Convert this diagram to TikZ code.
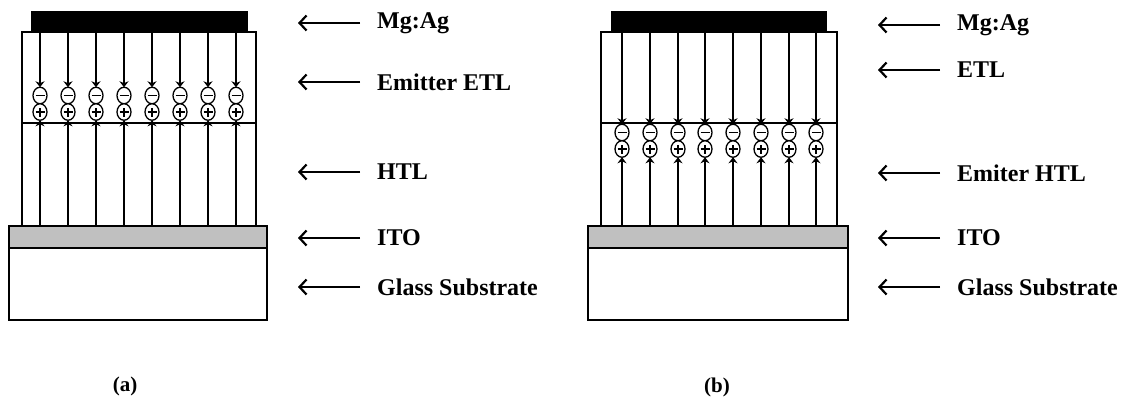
\documentclass[tikz,border=0pt]{standalone}
\usepackage{fontspec}
\setmainfont{Liberation Serif}
\usetikzlibrary{arrows.meta,shapes.geometric}
\definecolor{itogray}{RGB}{192,192,192}
\tikzset{
  layer/.style={draw, line width=1.6pt, inner sep=0pt, outer sep=0pt, anchor=north west},
  sign/.style={ellipse, draw, line width=1.3pt, minimum width=14pt, minimum height=16.5pt, inner sep=0pt, outer sep=0pt, fill=white},
  negc/.style={sign, path picture={\draw[line width=1.6pt] ([xshift=-4.5pt]path picture bounding box.center) -- ([xshift=4.5pt]path picture bounding box.center);}},
  posc/.style={sign, path picture={\draw[line width=1.6pt] ([xshift=-4.5pt]path picture bounding box.center) -- ([xshift=4.5pt]path picture bounding box.center) ([yshift=-4.5pt]path picture bounding box.center) -- ([yshift=4.5pt]path picture bounding box.center);}},
  carrier/.style={line width=1.6pt, -{Stealth[length=6pt,width=9pt]}},
  lab/.style={anchor=west, inner sep=0pt, font=\fontsize{24}{28}\selectfont\bfseries},
  labarrow/.style={line width=2.4pt, -{Straight Barb[length=7pt,width=15pt,line width=2.2pt]}, shorten <=17pt},
  captext/.style={inner sep=0pt, font=\fontsize{21}{25}\selectfont\bfseries},
}
\begin{document}
\begin{tikzpicture}[x=1pt,y=-1pt]
\useasboundingbox (0,0) rectangle (1133,407);
% ---------- panel (a) ----------
\node[layer, fill=black, minimum width=215pt, minimum height=20pt] (mgA) at (32,12) {};
\node[layer, minimum width=234pt, minimum height=194pt] (orgA) at (22,32) {};
\node[layer, fill=itogray, minimum width=258pt, minimum height=22pt] (itoA) at (9,226) {};
\node[layer, minimum width=258pt, minimum height=72pt] (glassA) at (9,248) {};
\coordinate (ifaAw) at (22,123);
\coordinate (ifaAe) at (256,123);
\draw[line width=1.6pt] (ifaAw) -- (ifaAe);
\foreach \xx [count=\i] in {40,68,96,124,152,180,208,236}{
  \node[negc] (amin\i) at (\xx,95.5) {};
  \node[posc] (apos\i) at (\xx,112) {};
  \draw[carrier] (amin\i |- orgA.north) -- (amin\i.north);
  \draw[carrier] (apos\i |- itoA.north) -- (apos\i.south);
}
% labels (a)
\node[lab] (la1) at (377,23) {Mg:Ag};
\node[lab] (la2) at (377,82) {Emitter ETL};
\node[lab] (la3) at (377,172) {HTL};
\node[lab] (la4) at (377,238) {ITO};
\node[lab] (la5) at (377,287) {Glass Substrate};
\foreach \k/\yy in {1/23,2/82,3/172,4/238,5/287}{
  \coordinate (lae\k) at (298,\yy);
  \draw[labarrow] (la\k.west) -- (lae\k);
}
\node[captext] (capa) at (125,386) {(a)};
% ---------- panel (b) ----------
\node[layer, fill=black, minimum width=214pt, minimum height=20pt] (mgB) at (612,12) {};
\node[layer, minimum width=236pt, minimum height=194pt] (orgB) at (601,32) {};
\node[layer, fill=itogray, minimum width=260pt, minimum height=22pt] (itoB) at (588,226) {};
\node[layer, minimum width=260pt, minimum height=72pt] (glassB) at (588,248) {};
\coordinate (ifaBw) at (601,123);
\coordinate (ifaBe) at (837,123);
\draw[line width=1.6pt] (ifaBw) -- (ifaBe);
\foreach \xx [count=\i] in {622,650,678,705,733,761,789,816}{
  \node[negc] (bmin\i) at (\xx,132.5) {};
  \node[posc] (bpos\i) at (\xx,149) {};
  \draw[carrier] (bmin\i |- orgB.north) -- (bmin\i.north);
  \draw[carrier] (bpos\i |- itoB.north) -- (bpos\i.south);
}
% labels (b)
\node[lab] (lb1) at (957,25) {Mg:Ag};
\node[lab] (lb2) at (957,70) {ETL};
\node[lab] (lb3) at (957,173) {Emiter HTL};
\node[lab] (lb4) at (957,238) {ITO};
\node[lab] (lb5) at (957,287) {Glass Substrate};
\foreach \k/\yy in {1/25,2/70,3/173,4/238,5/287}{
  \coordinate (lbe\k) at (878,\yy);
  \draw[labarrow] (lb\k.west) -- (lbe\k);
}
\node[captext] (capb) at (717,387) {(b)};
\end{tikzpicture}
\end{document}
